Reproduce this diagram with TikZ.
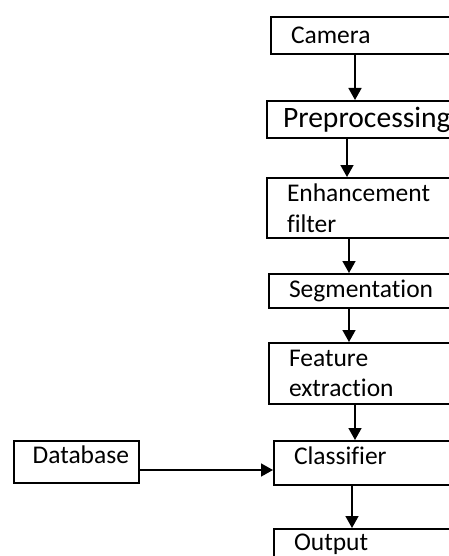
\documentclass[tikz,border=0pt]{standalone}
\usepackage{fontspec}
\setmainfont{Carlito}[Ligatures=NoCommon]
\usetikzlibrary{arrows.meta}

\begin{document}
\begin{tikzpicture}[x=0.5pt, y=-0.5pt, font=\fontsize{12.75}{15.3}\selectfont]
        \tikzset{box/.style={draw, line width=1pt, anchor=north west, align=left, inner xsep=10pt, inner ysep=0pt, text width=90pt},
                 arr/.style={line width=0.8pt, -{Triangle[length=6pt, width=6.5pt]}}}
        \useasboundingbox (0,0) rectangle (449,556);
        \clip (0,0) rectangle (449,556);
        \node[box, minimum height=18.5pt] (camera) at (270,16) {Camera};
        \node[box, minimum height=18.5pt, inner xsep=8pt, font=\fontsize{14.8}{17.8}\selectfont] (preproc) at (266,100) {Preprocessing};
        \node[box, minimum height=30pt] (enhance) at (266,177) {Enhancement\\filter};
        \node[box, minimum height=17pt] (segment) at (268,273) {Segmentation};
        \node[box, minimum height=30.5pt] (feature) at (268,342) {Feature\\extraction};
        \node[box, minimum height=22pt, text depth=7pt] (classif) at (273,440) {Classifier};
        \node[box, minimum height=15pt] (output) at (273,528) {Output};
        \node[box, minimum height=21pt, text depth=7pt, inner xsep=5pt, text width=52.5pt, align=right] (database) at (13,440) {Database};
        \draw[arr] ([xshift=42.5pt]camera.south west) -- ([xshift=42.5pt]camera.south west |- preproc.north);
        \draw[arr] ([xshift=40.5pt]preproc.south west) -- ([xshift=40.5pt]preproc.south west |- enhance.north);
        \draw[arr] ([xshift=41.5pt]enhance.south west) -- ([xshift=41.5pt]enhance.south west |- segment.north);
        \draw[arr] ([xshift=40.5pt]segment.south west) -- ([xshift=40.5pt]segment.south west |- feature.north);
        \draw[arr] ([xshift=43.5pt]feature.south west) -- ([xshift=43.5pt]feature.south west |- classif.north);
        \draw[arr] ([xshift=39.5pt]classif.south west) -- ([xshift=39.5pt]classif.south west |- output.north);
        \draw[arr] ([yshift=-4pt]database.east) -- ([yshift=-4pt]database.east -| classif.west);
\end{tikzpicture}
\end{document}
